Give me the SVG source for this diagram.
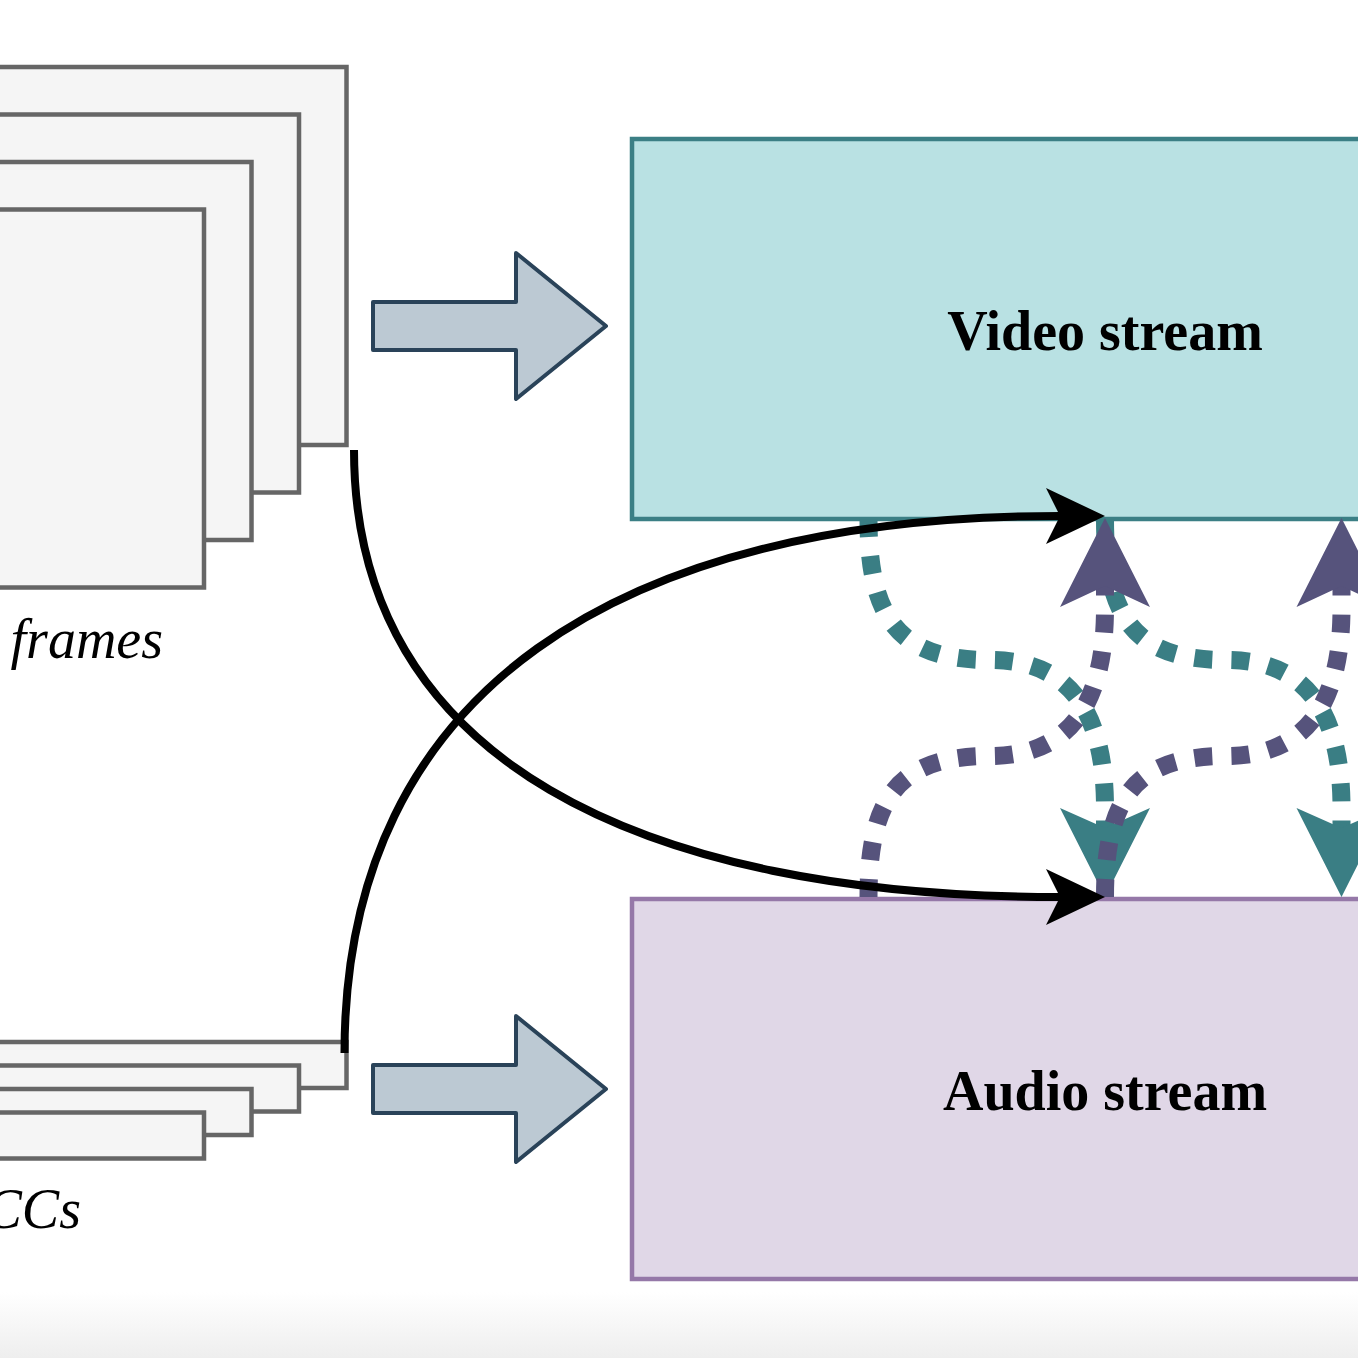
<svg xmlns="http://www.w3.org/2000/svg" width="1358" height="1358" viewBox="0 0 1358 1358">
  <defs>
    <style>
      .frame { fill: #f5f5f5; stroke: #666666; stroke-width: 4.5; }
      .block { fill: #bcc9d3; stroke: #2a4359; stroke-width: 4; stroke-linejoin: round; }
      .label { font-family: "Liberation Serif", "Times New Roman", serif; font-size: 56px; fill: #000; }
      .bold { font-weight: bold; }
      .ital { font-style: italic; }
      .black { fill: none; stroke: #000; stroke-width: 8; }
      .teal { fill: none; stroke: #3a7e84; stroke-width: 18; stroke-dasharray: 18 19; }
      .purple { fill: none; stroke: #56537c; stroke-width: 18; stroke-dasharray: 18 19; }
    </style>
    <linearGradient id="shade" x1="0" y1="0" x2="0" y2="1">
      <stop offset="0" stop-color="#ffffff"/>
      <stop offset="1" stop-color="#eeeeee"/>
    </linearGradient>
    <marker id="blackHead" markerUnits="userSpaceOnUse" viewBox="-20 -32 70 64" refX="0" refY="0" markerWidth="70" markerHeight="64" orient="auto" overflow="visible">
      <path d="M45,0 L-14,-28 L0,0 L-14,28 Z" fill="#000"/>
    </marker>
    <marker id="tealHead" markerUnits="userSpaceOnUse" viewBox="-25 -50 100 100" refX="0" refY="0" markerWidth="100" markerHeight="100" orient="auto" overflow="visible">
      <path d="M69,0 L-20,-45 L0,0 L-20,45 Z" fill="#3a7e84"/>
    </marker>
    <marker id="purpleHead" markerUnits="userSpaceOnUse" viewBox="-25 -50 100 100" refX="0" refY="0" markerWidth="100" markerHeight="100" orient="auto" overflow="visible">
      <path d="M68,0 L-21,-45 L0,0 L-21,45 Z" fill="#56537c"/>
    </marker>
  </defs>

  <rect x="0" y="0" width="1358" height="1358" fill="#ffffff"/>
  <rect x="0" y="1292" width="1358" height="66" fill="url(#shade)"/>

  <g id="video-frames">
    <rect class="frame" x="-32" y="67" width="378.5" height="378"/>
    <rect class="frame" x="-79" y="114.5" width="378" height="378"/>
    <rect class="frame" x="-127" y="162" width="378.5" height="378"/>
    <rect class="frame" x="-174" y="209.5" width="378" height="378"/>
    <text class="label ital" x="163" y="658" text-anchor="end">frames</text>
  </g>

  <g id="mfccs">
    <rect class="frame" x="-32" y="1042" width="378.5" height="46"/>
    <rect class="frame" x="-79" y="1065.5" width="378" height="46"/>
    <rect class="frame" x="-127" y="1089" width="378.5" height="46"/>
    <rect class="frame" x="-174" y="1112.5" width="378" height="46"/>
    <text class="label ital" x="81" y="1228" text-anchor="end">CCs</text>
  </g>

  <g id="arrow-video">
    <polygon class="block" points="373,302 516,302 516,253 606,326 516,399 516,350 373,350"/>
  </g>
  <g id="arrow-audio">
    <polygon class="block" points="373,1065 516,1065 516,1016 606,1089 516,1162 516,1113 373,1113"/>
  </g>

  <g id="video-stream">
    <rect x="632" y="139" width="946" height="380" fill="#b9e1e3" stroke="#3b7f85" stroke-width="4.5"/>
    <text class="label bold" x="1105" y="350" text-anchor="middle">Video stream</text>
  </g>

  <g id="audio-stream">
    <rect x="632" y="899" width="946" height="380" fill="#e0d7e7" stroke="#9578a8" stroke-width="4.5"/>
    <text class="label bold" x="1105" y="1110" text-anchor="middle">Audio stream</text>
  </g>

  <g id="connectors">
    <path class="teal" d="M868.5,519 C868.5,620 900,660 990,660 C1060,660 1105,700 1105,808 L1105,828" marker-end="url(#tealHead)"/>
    <path class="teal" d="M1105,519 C1105,620 1136.5,660 1226.5,660 C1296.5,660 1341.5,700 1341.5,808 L1341.5,828" marker-end="url(#tealHead)"/>
    <path class="purple" d="M868.5,897 C868.5,796 900,756 990,756 C1060,756 1105,716 1105,608 L1105,586" marker-end="url(#purpleHead)"/>
    <path class="purple" d="M1105,897 C1105,796 1136.5,756 1226.5,756 C1296.5,756 1341.5,716 1341.5,608 L1341.5,586" marker-end="url(#purpleHead)"/>
    <path class="black" d="M354,450 C354,760 640,897 1060,897" marker-end="url(#blackHead)"/>
    <path class="black" d="M344.5,1053 C344.5,690 620,516 1060,516" marker-end="url(#blackHead)"/>
  </g>
</svg>
